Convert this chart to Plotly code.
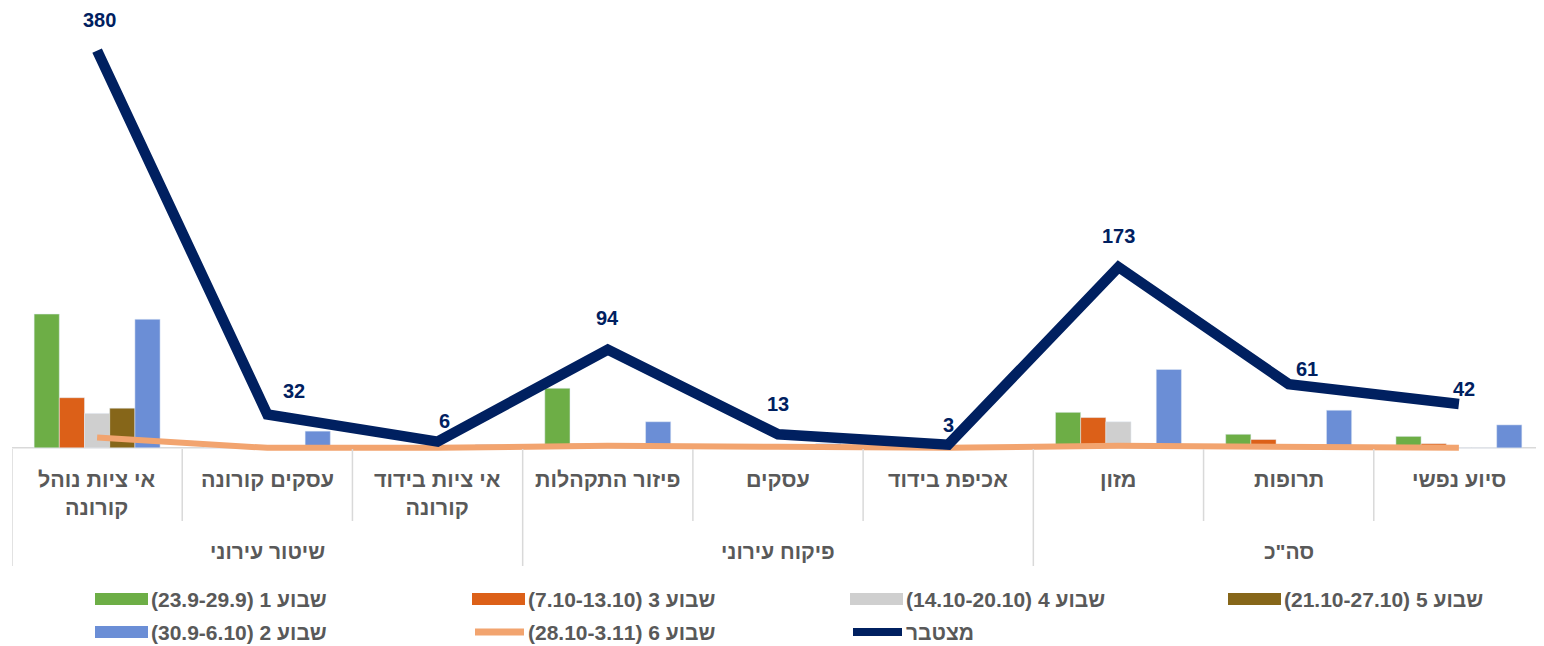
import plotly.graph_objects as go

# ---------------- data ----------------
categories = ["אי ציות נוהל<br>קורונה", "עסקים קורונה", "אי ציות בידוד<br>קורונה",
              "פיזור התקהלות", "עסקים", "אכיפת בידוד",
              "מזון", "תרופות", "סיוע נפשי"]
groups = ["שיטור עירוני", "פיקוח עירוני", 'סה"כ']
group_sizes = [3, 3, 3]

week1 = [128, 0, 2, 57, 3, 1, 34, 13, 11]
week3 = [48, 2, 0, 4, 2, 0, 29, 8, 4]
week4 = [33, 1, 0, 3, 2, 0, 25, 0, 0]
week5 = [38, 0, 0, 3, 1, 0, 3, 0, 0]
week2 = [123, 16, 3, 25, 4, 1, 75, 36, 22]
week6 = [10, 0, 0, 2, 1, 0, 2, 1, 0]
cumulative = [380, 32, 6, 94, 13, 3, 173, 61, 42]

bar_names = ["שבוע 1 (23.9-29.9)", "שבוע 3 (7.10-13.10)", "שבוע 4 (14.10-20.10)",
             "שבוע 5 (21.10-27.10)", "שבוע 2 (30.9-6.10)"]
week6_name = "שבוע 6 (28.10-3.11)"
cum_name = "מצטבר"

# label offsets (style) for the cumulative data labels, in px
label_dx = [2, 27, 7, 0, 0, 0, 0, 18, 5]
label_dy = [31, 23, 21, 32, 30, 20, 31, 15, 15]

bar_colors = ["#6DAE46", "#DC6018", "#CFCFCF", "#866619", "#6B8ED6"]
week6_color = "#F2A46F"
cum_color = "#002060"
text_gray = "#595959"
grid_gray = "#D9D9D9"

# ---------------- figure ----------------
OFF = 8  # page body margin
W, H = 1544 - OFF, 646 - OFF
ML, MR, MT, MB = 12 - OFF, 0, 13 - OFF, 646 - 451
plot_w = W - ML - MR
plot_h = H - MT - MB

fig = go.Figure()
for vals, name, col in zip([week1, week3, week4, week5, week2], bar_names, bar_colors):
    fig.add_trace(go.Bar(x=categories, y=vals, name=name, marker_color=col,
                         showlegend=False, hoverinfo="skip"))

fig.add_trace(go.Scatter(x=categories, y=week6, mode="lines", name=week6_name,
                         line=dict(color=week6_color, width=6), showlegend=False,
                         hoverinfo="skip"))

fig.add_trace(go.Scatter(x=categories, y=cumulative, mode="lines",
                         name=cum_name,
                         line=dict(color=cum_color, width=10.5),
                         showlegend=False, hoverinfo="skip"))


def py(ypix):
    """page pixel row -> paper y"""
    return (MT + plot_h - (ypix - OFF)) / plot_h


def px(xpix):
    return (xpix - OFF - ML) / plot_w


shapes = []
annotations = []

# data labels of cumulative line
for c, v, dx, dy in zip(categories, cumulative, label_dx, label_dy):
    annotations.append(dict(x=c, xref="x", y=v, yref="y", text=f"<b>{v}</b>",
                            showarrow=False, xanchor="center", yanchor="middle",
                            xshift=dx, yshift=dy,
                            font=dict(family="Arial", size=20, color=cum_color)))

# baseline
shapes.append(dict(type="line", xref="x", yref="y", x0=-0.5, x1=len(categories) - 0.5,
                   y0=0, y1=0, line=dict(color=grid_gray, width=1.5), layer="below"))

# category dividers
group_edges = {0}
acc = 0
for g in group_sizes:
    acc += g
    group_edges.add(acc)
for i in range(len(categories) + 1):
    yend = py(566) if i in group_edges else py(521)
    shapes.append(dict(type="line", xref="x", yref="paper", x0=i - 0.5, x1=i - 0.5,
                       y0=py(449), y1=yend, line=dict(color=grid_gray, width=1.5)))

# category labels
for c in categories:
    annotations.append(dict(x=c, xref="x", y=py(466), yref="paper", text=f"<b>{c}</b>",
                            showarrow=False, xanchor="center", yanchor="top",
                            font=dict(family="Arial", size=21.5, color=text_gray)))

# group labels
start = 0
for g, n in zip(groups, group_sizes):
    annotations.append(dict(x=start + (n - 1) / 2, xref="x", y=py(551), yref="paper",
                            text=f"<b>{g}</b>", showarrow=False, xanchor="center",
                            yanchor="middle",
                            font=dict(family="Arial", size=21, color=text_gray)))
    start += n

# manual legend
legend_items = [(bar_names[i], bar_colors[i], "bar") for i in range(4)] + \
               [(bar_names[4], bar_colors[4], "bar"), (week6_name, week6_color, "line"),
                (cum_name, cum_color, "line")]
col_x = [95, 472, 850, 1228]
row_y = [599, 632]
for k, (name, col, kind) in enumerate(legend_items):
    r, c = divmod(k, 4)
    x0, yc = col_x[c], row_y[r]
    if kind == "bar":
        shapes.append(dict(type="rect", xref="paper", yref="paper",
                           x0=px(x0), x1=px(x0 + 53), y0=py(yc + 6), y1=py(yc - 6),
                           fillcolor=col, line=dict(width=0)))
    else:
        shapes.append(dict(type="line", xref="paper", yref="paper",
                           x0=px(x0 + 3), x1=px(x0 + 52), y0=py(yc), y1=py(yc),
                           line=dict(color=col, width=7 if col == week6_color else 8)))
    annotations.append(dict(x=px(x0 + 55), xref="paper", y=py(yc), yref="paper",
                            text="<b>\u202b" + name + "\u202c</b>", showarrow=False,
                            xanchor="left", yanchor="middle", borderpad=0,
                            font=dict(family="Arial", size=21, color=text_gray)))

fig.update_layout(
    width=W, height=H,
    margin=dict(l=ML, r=MR, t=MT, b=MB),
    paper_bgcolor="white", plot_bgcolor="white",
    barmode="group", bargap=0.26, bargroupgap=0,
    showlegend=False,
    xaxis=dict(showticklabels=False, showgrid=False, zeroline=False, showline=False,
               ticks="", range=[-0.5, len(categories) - 0.5]),
    yaxis=dict(range=[-3, 416], showticklabels=False, showgrid=False, zeroline=False,
               showline=False, ticks=""),
    shapes=shapes, annotations=annotations,
)

fig.write_html("out.html")
